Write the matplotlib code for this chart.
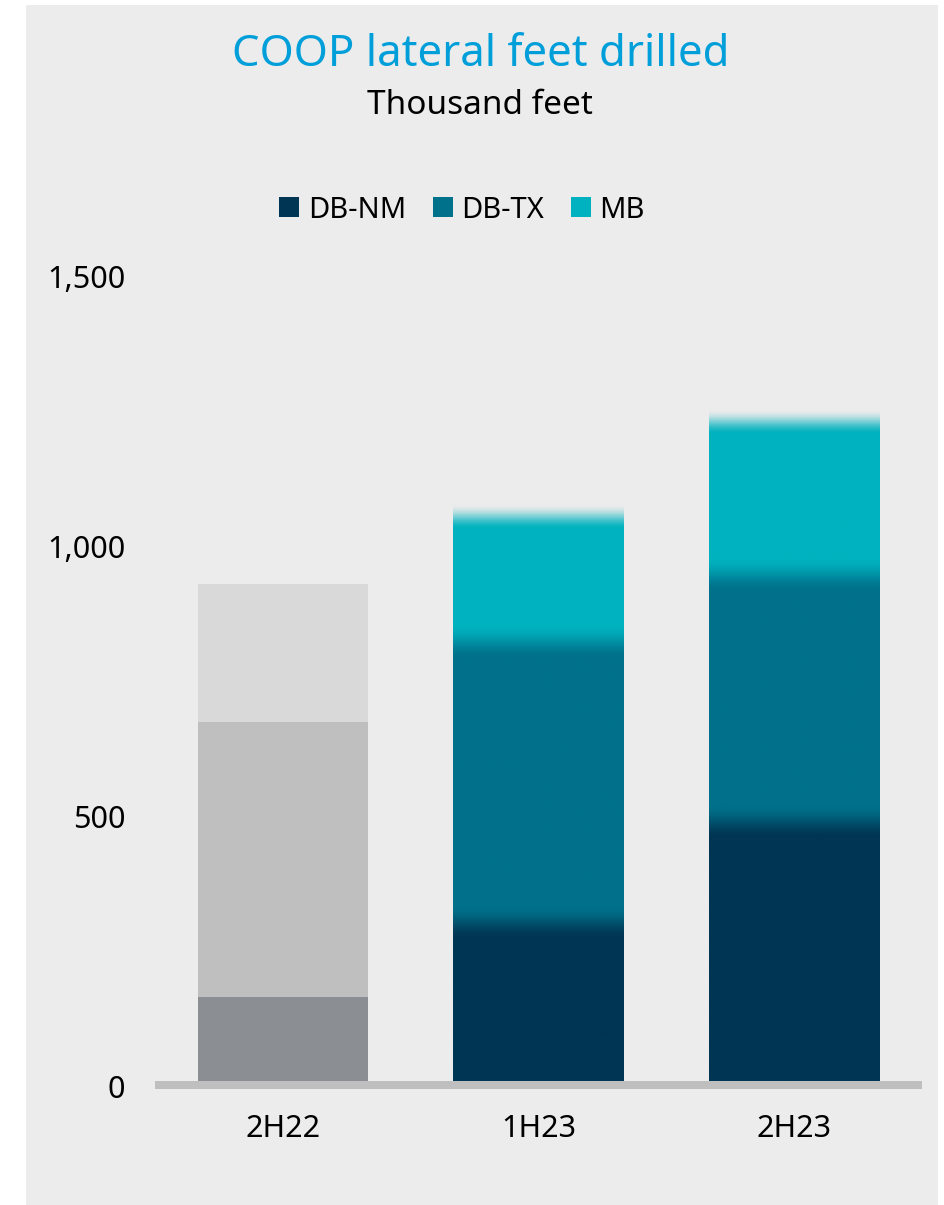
import matplotlib
matplotlib.use("Agg")
import matplotlib.pyplot as plt
import numpy as np
from matplotlib.colors import to_rgb
from matplotlib.patches import Patch, Rectangle
from matplotlib.transforms import offset_copy

# Data (thousand feet)
periods = ["2H22", "1H23", "2H23"]
series = ["DB-NM", "DB-TX", "MB"]
db_nm = [156, 293, 480]
db_tx = [509, 520, 457]
mb = [255, 231, 283]

# styling
series_colors = ["#003553", "#00718b", "#00b2bf"]
grey_colors = ["#8b8e93", "#bfbfbf", "#d9d9d9"]   # 2H22 shown in grey
blurred = [False, True, True]                   # soft edges on the newer bars
bg = "#ececec"
title_blue = "#009fda"

plt.rcParams['font.family'] = ['Noto Sans', 'DejaVu Sans']

fig = plt.figure(figsize=(9.44, 12.05), dpi=100)
fig.patch.set_facecolor("white")
fig.patches.append(Rectangle((26 / 944, 0), (938 - 26) / 944, 1 - 5 / 1205,
                             transform=fig.transFigure, facecolor=bg,
                             edgecolor="none", zorder=-10))

ax = fig.add_axes([155 / 944, 1 - 1081 / 1205, (922 - 155) / 944, (1081 - 271) / 1205])
ax.set_facecolor("none")

x = np.arange(len(periods))
width = 0.665
stack = [db_nm, db_tx, mb]
bottom = np.zeros(len(periods))
for k, vals in enumerate(stack):
    cols = [grey_colors[k] if not b else series_colors[k] for b in blurred]
    ax.bar(x, vals, width, bottom=bottom, color=cols, zorder=2, linewidth=0)
    bottom += np.array(vals)

# soft transitions between segments for the blurred bars
soft_in, soft_top = 62, 46
bg_rgb = np.array(to_rgb(bg))
rgbs = np.array([to_rgb(c) for c in series_colors])
for i, b in enumerate(blurred):
    if not b:
        continue
    vals = [s[i] for s in stack]
    bounds = np.cumsum(vals)
    ytop = bounds[-1] + soft_top / 2
    ys = np.linspace(0, ytop, 800)
    col = np.tile(rgbs[0], (len(ys), 1))
    for k in range(1, len(vals)):
        w = np.clip((ys - bounds[k - 1]) / soft_in + 0.5, 0, 1)
        w = w * w * (3 - 2 * w)
        col = col * (1 - w)[:, None] + rgbs[k] * w[:, None]
    w = np.clip((ys - bounds[-1]) / soft_top + 0.5, 0, 1)
    w = w * w * (3 - 2 * w)
    col = col * (1 - w)[:, None] + bg_rgb * w[:, None]
    img = np.repeat(col[:, None, :], 4, axis=1)
    ax.imshow(img, origin="lower", aspect="auto", interpolation="bilinear",
              extent=(x[i] - width / 2, x[i] + width / 2, 0, ytop), zorder=3)

# baseline
base_tr = offset_copy(ax.get_yaxis_transform(), fig=fig, y=-4, units="dots")
ax.plot([0, 1], [0, 0], transform=base_tr, color="#bfbfbf", lw=5.76,
        solid_capstyle="butt", clip_on=False, zorder=1)

ax.set_xlim(-0.5, 2.5)
ax.set_ylim(0, 1500)
ax.set_xticks(x)
ax.set_xticklabels(periods)
ax.set_yticks([0, 500, 1000, 1500])
ax.set_yticklabels(["0", "500", "1,000", "1,500"])
ax.tick_params(axis="both", length=0, labelsize=22, colors="black")
ax.tick_params(axis="y", pad=21.5)
ax.tick_params(axis="x", pad=24)
for lbl in ax.get_yticklabels():
    lbl.set_transform(lbl.get_transform() + offset_copy(
        ax.transData, fig=fig, y=-3, units="dots") - ax.transData)
for s in ax.spines.values():
    s.set_visible(False)

fig.text(481 / 944, 1 - 55 / 1205, "COOP lateral feet drilled", color=title_blue,
         fontsize=31.5, ha="center", va="center")
fig.text(480 / 944, 1 - 105 / 1205, "Thousand feet", color="black",
         fontsize=24, ha="center", va="center")

handles = [Patch(facecolor=c, edgecolor="none") for c in series_colors]
fig.legend(handles, series, loc="center", bbox_to_anchor=(462 / 944, 1 - 210 / 1205),
           ncol=3, frameon=False, fontsize=21, handlelength=0.69, handleheight=0.69,
           handletextpad=0.3, columnspacing=0.9, borderpad=0)

fig.savefig("out.png", dpi=100, facecolor=fig.get_facecolor())
